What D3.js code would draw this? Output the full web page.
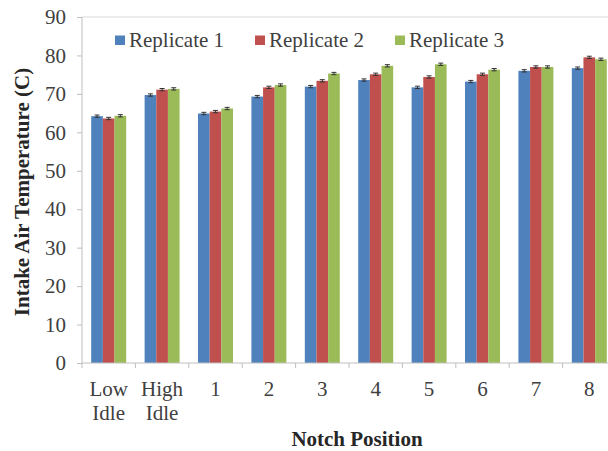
<!DOCTYPE html>
<html><head><meta charset="utf-8">
<script src="https://cdn.jsdelivr.net/npm/d3@7"></script>
<style>body{margin:0;background:#fff}svg{display:block}</style>
</head><body><svg id="c" width="608" height="451"></svg>
<script>
const categories = [["Low","Idle"],["High","Idle"],["1"],["2"],["3"],["4"],["5"],["6"],["7"],["8"]];
const seriesNames = ["Replicate 1","Replicate 2","Replicate 3"];
const rep1 = [64.2,69.7,64.9,69.3,71.9,73.6,71.7,73.2,76.0,76.7];
const rep2 = [63.6,71.1,65.4,71.7,73.4,75.1,74.4,75.1,77.0,79.5];
const rep3 = [64.3,71.3,66.2,72.3,75.3,77.3,77.7,76.3,77.0,79.0];
const errs = [0.3,0.3,0.3];
const colors = ["#4F81BD","#C0504D","#9BBB59"];
const yTicks = [0,10,20,30,40,50,60,70,80,90];
const FONT = "Liberation Serif";
const FS = 21;

const svg = d3.select("#c");
const m = {l:82, t:17, b:363, r:616};
const x = d3.scaleBand().domain(d3.range(categories.length)).range([m.l,m.r]).paddingInner(0.345).paddingOuter(0.1725);
const xs = d3.scaleBand().domain(d3.range(3)).range([0,x.bandwidth()]);
const y = d3.scaleLinear().domain([0,90]).range([m.b,m.t]);
const series = [rep1,rep2,rep3];

svg.append("line").attr("x1",m.l).attr("x2",608).attr("y1",y(90)).attr("y2",y(90)).attr("stroke","#d9d9d9");

const g = svg.append("g");
series.forEach((s,si)=>{
  g.selectAll(null).data(s).enter().append("rect")
    .attr("x",(d,i)=>x(i)+xs(si)).attr("width",xs.bandwidth())
    .attr("y",d=>y(d)).attr("height",d=>y(0)-y(d)).attr("fill",colors[si]);
  g.selectAll(null).data(s).enter().append("path")
    .attr("d",(d,i)=>{const cx=x(i)+xs(si)+xs.bandwidth()/2;const y1=y(d+errs[si]),y0=y(d-errs[si]);
      return `M${cx-2.5},${y1}H${cx+2.5}M${cx},${y1}V${y0}M${cx-2.5},${y0}H${cx+2.5}`;})
    .attr("stroke","#333").attr("stroke-width",1).attr("fill","none");
});

const ya = svg.append("g").attr("transform",`translate(${m.l},0)`)
  .call(d3.axisLeft(y).tickValues(yTicks).tickSize(5).tickPadding(11));
ya.attr("font-family",FONT);
ya.select(".domain").attr("stroke","#bfbfbf").attr("d",`M0,${m.b}V${m.t}`);
ya.selectAll(".tick line").attr("stroke","#bfbfbf");
ya.selectAll("text").attr("font-size",FS).attr("fill","#404040").attr("font-family",FONT);

const xa = svg.append("g").attr("transform",`translate(0,${m.b})`);
xa.append("line").attr("x1",m.l).attr("x2",608).attr("stroke","#bfbfbf");
const step = x.step();
xa.selectAll(null).data(d3.range(categories.length+1)).enter().append("line")
  .attr("x1",i=>m.l+i*step).attr("x2",i=>m.l+i*step).attr("y1",0).attr("y2",5).attr("stroke","#bfbfbf");
const lab = xa.selectAll(null).data(categories).enter().append("text")
  .attr("text-anchor","middle").attr("font-size",FS).attr("fill","#404040").attr("font-family",FONT)
  .attr("transform",(d,i)=>`translate(${x(i)+x.bandwidth()/2},0)`);
lab.each(function(d){
  d.forEach((t,k)=>d3.select(this).append("tspan").attr("x",0).attr("y",33+k*24).text(t));
});

svg.append("text").attr("transform","translate(29,192) rotate(-90)").attr("text-anchor","middle")
  .attr("font-family",FONT).attr("font-size",FS).attr("font-weight","bold").attr("fill","#262626").text("Intake Air Temperature (C)");
svg.append("text").attr("x",357).attr("y",446).attr("text-anchor","middle")
  .attr("font-family",FONT).attr("font-size",FS).attr("font-weight","bold").attr("fill","#262626").text("Notch Position");

const lx = [115,255,395];
seriesNames.forEach((n,i)=>{
  svg.append("rect").attr("x",lx[i]).attr("y",35.5).attr("width",10).attr("height",9.5).attr("fill",colors[i]);
  svg.append("text").attr("x",lx[i]+14).attr("y",47).attr("font-family",FONT).attr("font-size",FS).attr("fill","#404040").text(n);
});
</script></body></html>
